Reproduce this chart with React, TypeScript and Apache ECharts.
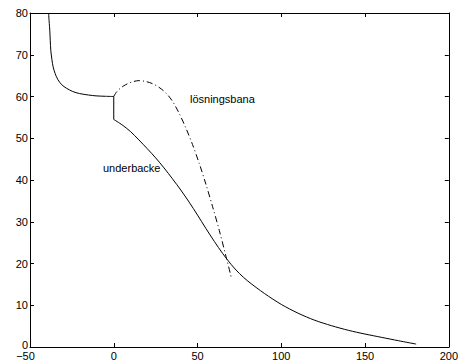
import React, { useEffect, useRef } from "react";
import * as echarts from "echarts";

// x/y ticks
const xTicks = { min: -50, max: 200, step: 50 };
const yTicks = { min: 0, max: 80, step: 10 };

// underbacke – upper branch (x < 0)
const upperX = [-38.9, -38.5, -38.2, -37.6, -36.9, -36.2, -35.0, -33.3, -31.0, -28.3, -24.5, -20.4, -15.0, -10.6, -5.0, 0];
const upperY = [80.0, 77.5, 75.9, 71.1, 68.8, 67.1, 65.5, 64.0, 62.8, 62.0, 61.2, 60.7, 60.35, 60.15, 60.05, 60.0];

// underbacke – vertical drop at x = 0
const dropX = [0, 0];
const dropY = [60.0, 54.5];

// underbacke – lower branch (x >= 0)
const lowerX = [0, 5, 10, 15, 20, 25, 30, 35, 40, 45, 50, 55, 60, 65, 70, 75, 80, 90, 100, 110, 120, 130, 140, 150, 160, 170, 180.5];
const lowerY = [54.5, 53.2, 51.6, 49.6, 47.5, 45.3, 42.9, 40.3, 37.6, 34.7, 31.6, 28.4, 25.3, 22.4, 19.8, 17.6, 15.8, 12.8, 10.2, 8.1, 6.4, 5.1, 4.0, 3.1, 2.3, 1.5, 0.7];

// lösningsbana (dash-dot)
const pathX = [0, 1.5, 4, 7, 11, 15, 19, 23, 27, 31, 35, 39, 43, 47, 51, 55, 59, 63, 67, 70.2];
const pathY = [60.0, 61.0, 62.0, 62.8, 63.5, 63.8, 63.6, 63.1, 62.2, 60.9, 58.9, 56.0, 52.5, 48.5, 44.0, 39.0, 33.6, 27.9, 21.7, 16.6];

const labels = ["lösningsbana", "underbacke"];

const FONT = "'Liberation Sans', Arial, Helvetica, sans-serif";

const zip = (xs: number[], ys: number[]) => xs.map((x, i) => [x, ys[i]]);

export default function App() {
  const ref = useRef<HTMLDivElement>(null);
  useEffect(() => {
    if (!ref.current) return;
    const chart = echarts.init(ref.current, null, { renderer: "svg" });
    const axisLine = { show: true, onZero: false, lineStyle: { color: "#000", width: 1 } };
    const tick = { show: true, inside: true, length: 4, lineStyle: { color: "#000", width: 1 } };
    const xfmt = (v: number) => (v < 0 ? `{neg|${String(v).replace("-", "\u2212")}}` : String(v));
    const yfmt = (v: number) => (v === 0 ? `{zero|0}` : String(v));
    const line = { color: "#000", width: 1 };
    chart.setOption({
      animation: false,
      backgroundColor: "#fff",
      grid: { left: 30, right: 8, top: 13, bottom: 16, containLabel: false },
      xAxis: [
        {
          type: "value", position: "bottom", min: xTicks.min, max: xTicks.max, interval: xTicks.step,
          axisLine, axisTick: tick, splitLine: { show: false },
          axisLabel: {
            color: "#000", fontSize: 11, fontFamily: FONT, margin: 3, formatter: xfmt,
            rich: { neg: { color: "#000", fontSize: 11, fontFamily: FONT, padding: [0, 9, 0, 0] } },
          },
        },
        {
          type: "value", position: "top", min: xTicks.min, max: xTicks.max, interval: xTicks.step,
          axisLine, axisTick: tick, splitLine: { show: false }, axisLabel: { show: false },
        },
      ],
      yAxis: [
        {
          type: "value", position: "left", min: yTicks.min, max: yTicks.max, interval: yTicks.step,
          axisLine, axisTick: tick, splitLine: { show: false },
          axisLabel: {
            color: "#000", fontSize: 11, fontFamily: FONT, margin: 2, formatter: yfmt,
            rich: { zero: { color: "#000", fontSize: 11, fontFamily: FONT, padding: [0, 0, 5, 0] } },
          },
        },
        {
          type: "value", position: "right", min: yTicks.min, max: yTicks.max, interval: yTicks.step,
          axisLine, axisTick: tick, splitLine: { show: false }, axisLabel: { show: false },
        },
      ],
      series: [
        { type: "line", data: zip(upperX, upperY), showSymbol: false, smooth: 0.3, lineStyle: line },
        { type: "line", data: zip(dropX, dropY), showSymbol: false, lineStyle: line },
        { type: "line", data: zip(lowerX, lowerY), showSymbol: false, smooth: 0.3, lineStyle: line },
        {
          type: "line", data: zip(pathX, pathY), showSymbol: false, smooth: 0.3,
          lineStyle: { ...line, type: [6, 3, 1, 3] },
        },
      ],
      graphic: [
        { type: "text", x: 190, y: 99, style: { text: labels[0], fill: "#000", font: `11px ${FONT}`, textVerticalAlign: "middle" } },
        { type: "text", x: 103, y: 168, style: { text: labels[1], fill: "#000", font: `11px ${FONT}`, textVerticalAlign: "middle" } },
      ],
    });
    return () => chart.dispose();
  }, []);
  return <div ref={ref} style={{ position: "fixed", left: 0, top: 0, width: 461, height: 363 }} />;
}
